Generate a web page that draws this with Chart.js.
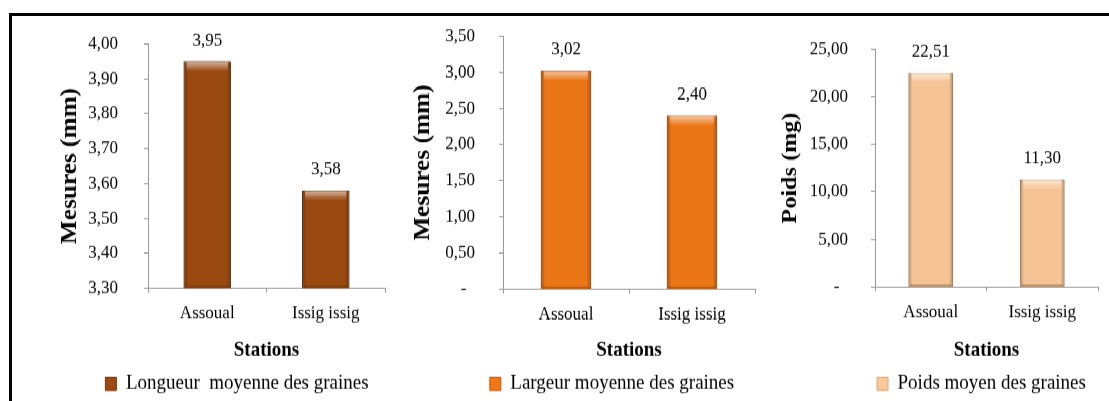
<!DOCTYPE html>
<html lang="fr">
<head>
<meta charset="utf-8">
<title>Mesures des graines par station</title>
<script src="https://cdn.jsdelivr.net/npm/chart.js@4.4.1/dist/chart.umd.min.js"></script>
<style>
  html, body { margin: 0; padding: 0; background: #fff; }
  body { width: 1109px; height: 401px; position: relative; overflow: hidden; }
  .frame { position: absolute; left: 9px; top: 13px; width: 1200px; height: 500px;
           border-top: 3px solid #000; border-left: 3px solid #000; }
  .plots { position: absolute; left: 0; top: 17px; width: 1109px; height: 353px;
           transform: scaleY(1.1); transform-origin: 0 0; }
  canvas { position: absolute; top: 0; }
</style>
</head>
<body>
<div class="frame"></div>
<div class="plots">
  <canvas id="cLongueur" width="378" height="353" style="left:12px"></canvas>
  <canvas id="cLargeur" width="365" height="353" style="left:395px"></canvas>
  <canvas id="cPoids" width="340" height="353" style="left:765px"></canvas>
</div>
<script>
// Stations and measured averages
const stations = ['Assoual', 'Issig issig'];
const longueurMoyenne = [3.95, 3.58];
const largeurMoyenne = [3.02, 2.40];
const poidsMoyen = [22.51, 11.30];

// Axis ranges: [min, max, step]
const longueurAxis = [3.30, 4.00, 0.10];
const largeurAxis = [0, 3.50, 0.50];
const poidsAxis = [0, 25.00, 5.00];

const SERIF = '"Liberation Serif", "Times New Roman", serif';
const LEGEND_TOP = 313;   // canvas y where the legend row starts
const fmt = v => v.toFixed(2).replace('.', ',');
const tickFmt = v => (Math.abs(v) < 1e-9 ? '-  ' : fmt(v));

// Value written above each bar
const valueLabels = {
  id: 'valueLabels',
  afterDatasetsDraw(chart) {
    const ctx = chart.ctx;
    const values = chart.data.datasets[0].data;
    ctx.save();
    ctx.font = '17px ' + SERIF;
    ctx.fillStyle = '#000';
    ctx.textAlign = 'center';
    ctx.textBaseline = 'middle';
    chart.getDatasetMeta(0).data.forEach((bar, i) => {
      ctx.fillText(fmt(values[i]), bar.x, bar.y - 19);
    });
    ctx.restore();
  }
};

// Soft bevel shading on the bars, kept inside the plot area
const bevel = {
  id: 'bevel',
  afterDatasetsDraw(chart) {
    const ctx = chart.ctx;
    const area = chart.chartArea;
    ctx.save();
    ctx.beginPath();
    ctx.rect(area.left, area.top, area.right - area.left, area.bottom - area.top);
    ctx.clip();
    chart.getDatasetMeta(0).data.forEach(bar => {
      const {x, y, base, width} = bar.getProps(['x', 'y', 'base', 'width'], true);
      const bottom = Math.min(base, area.bottom);
      const l = x - width / 2, h = bottom - y;
      let g = ctx.createLinearGradient(l, 0, l + width, 0);
      g.addColorStop(0, 'rgba(0,0,0,0.30)');
      g.addColorStop(0.09, 'rgba(0,0,0,0.02)');
      g.addColorStop(0.91, 'rgba(0,0,0,0.02)');
      g.addColorStop(1, 'rgba(0,0,0,0.30)');
      ctx.fillStyle = g;
      ctx.fillRect(l, y, width, h);
      g = ctx.createLinearGradient(0, y + 1, 0, y + 9);
      g.addColorStop(0, 'rgba(255,255,255,0.55)');
      g.addColorStop(1, 'rgba(255,255,255,0)');
      ctx.fillStyle = g;
      ctx.fillRect(l + 3, y + 1, width - 6, 8);
      ctx.fillStyle = 'rgba(0,0,0,0.22)';
      ctx.fillRect(l + 2, bottom - 2, width - 4, 2);
    });
    ctx.restore();
  }
};

// Horizontal offset of the legend row under each plot
const legendShift = {
  id: 'legendShift',
  afterLayout(chart, args, opts) {
    const dx = (opts && opts.dx) || 0;
    if (chart.legend && dx) {
      chart.legend.left += dx;
      chart.legend.right += dx;
    }
  }
};

function makeChart(id, cfg) {
  const [min, max, step] = cfg.axis;
  return new Chart(document.getElementById(id), {
    type: 'bar',
    data: {
      labels: stations,
      datasets: [{
        label: cfg.legend,
        data: cfg.values,
        backgroundColor: cfg.color,
        borderColor: cfg.edge,
        borderWidth: 1,
        barPercentage: 0.4,
        categoryPercentage: 1.0
      }]
    },
    options: {
      responsive: false,
      animation: false,
      events: [],
      layout: { padding: { top: cfg.padTop, left: cfg.padLeft, right: cfg.padRight, bottom: 0 } },
      plugins: {
        tooltip: { enabled: false },
        legendShift: { dx: cfg.legendDx },
        legend: {
          position: 'bottom',
          labels: {
            color: '#000',
            font: { family: SERIF, size: 19 },
            boxWidth: 11,
            boxHeight: 12,
            padding: 10
          }
        }
      },
      scales: {
        x: {
          grid: { display: true, drawOnChartArea: false, color: '#9a9a9a', tickLength: 4, offset: true },
          border: { color: '#9a9a9a', width: 1 },
          ticks: { color: '#000', font: { family: SERIF, size: 17 }, padding: 9, maxRotation: 0 },
          title: { display: true, text: 'Stations', color: '#000',
                   font: { family: SERIF, size: 19, weight: 'bold' }, padding: { top: 0, bottom: 0 } },
          afterFit: s => {
            s.height = LEGEND_TOP - cfg.plotBottom;
            s.paddingLeft = 0; s.paddingRight = 0;
          }
        },
        y: {
          min: min, max: max,
          grid: { display: true, drawOnChartArea: false, color: '#9a9a9a', tickLength: 4 },
          border: { color: '#9a9a9a', width: 1 },
          ticks: { stepSize: step, color: '#000', font: { family: SERIF, size: 17 }, padding: cfg.tickPad,
                   callback: v => tickFmt(v) },
          title: { display: true, text: cfg.yTitle, color: '#000',
                   font: { family: SERIF, size: cfg.titleSize, weight: 'bold' },
                   padding: { top: cfg.titleShift, bottom: 0 } },
          afterFit: s => {
            s.width = cfg.yWidth;
            s.paddingTop = 0; s.paddingBottom = 0;
          }
        }
      }
    },
    plugins: [bevel, valueLabels, legendShift]
  });
}

makeChart('cLongueur', {
  legend: 'Longueur  moyenne des graines', values: longueurMoyenne, axis: longueurAxis,
  color: '#9c4a10', edge: '#7a3608', yTitle: 'Mesures (mm)', titleSize: 23,
  padTop: 24.5, plotBottom: 245.5, padLeft: 75, padRight: 5, yWidth: 61,
  tickPad: 26, titleShift: -30.8, legendDx: 1
});
makeChart('cLargeur', {
  legend: 'Largeur moyenne des graines', values: largeurMoyenne, axis: largeurAxis,
  color: '#f07816', edge: '#c85a0a', yTitle: 'Mesures (mm)', titleSize: 23,
  padTop: 17.3, plotBottom: 246.4, padLeft: 30, padRight: 5, yWidth: 78,
  tickPad: 24, titleShift: -15.8, legendDx: 22
});
makeChart('cPoids', {
  legend: 'Poids moyen des graines', values: poidsMoyen, axis: poidsAxis,
  color: '#fbc897', edge: '#d9a878', yTitle: 'Poids (mg)', titleSize: 22,
  padTop: 29.1, plotBottom: 244.5, padLeft: 30, padRight: 7, yWidth: 80,
  tickPad: 23, titleShift: -18.2, legendDx: 35
});
</script>
</body>
</html>
